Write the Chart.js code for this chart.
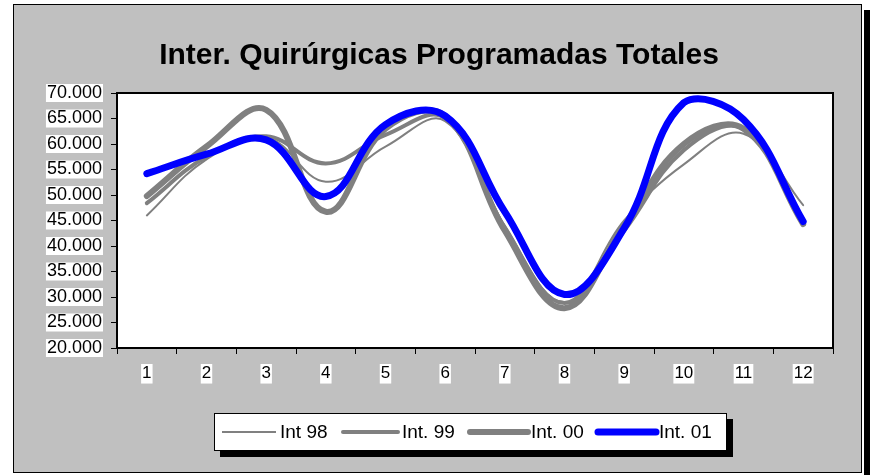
<!DOCTYPE html>
<html>
<head>
<meta charset="utf-8">
<script src="https://cdn.jsdelivr.net/npm/chart.js@4/dist/chart.umd.min.js"></script>
<style>
  body { margin: 0; background: #fff; }
  canvas { display: block; }
</style>
</head>
<body>
<canvas id="chart" width="870" height="475"></canvas>
<script>
// months 1..12
const months = ['1', '2', '3', '4', '5', '6', '7', '8', '9', '10', '11', '12'];

// interventions per month, each year
const int98 = [46000, 57000, 61300, 52600, 59500, 64500, 44000, 29000, 45000, 56000, 62000, 48000];
const int99 = [48400, 57500, 61500, 56200, 61800, 65000, 43500, 28800, 43000, 58800, 63000, 44500];
const int00 = [49800, 59500, 66700, 46700, 63000, 65500, 43000, 27800, 44000, 60000, 63000, 44300];
const int01 = [54200, 58000, 60800, 49700, 63800, 65500, 46700, 30500, 43500, 68100, 64800, 44800];

const seriesNames = ['Int 98', 'Int. 99', 'Int. 00', 'Int. 01'];
const chartTitle = 'Inter. Quirúrgicas Programadas Totales';

const yMin = 20000;
const yMax = 70000;
const yStep = 5000;

const FONT = "Arial, 'Liberation Sans', sans-serif";
const GREY = '#808080';
const BLUE = '#0000ff';

const fmt = (v) => (v / 1000) + '.000';

// frame, title, plot background and border
const framePlugin = {
    id: 'frame',
    beforeDraw(chart) {
        const ctx = chart.ctx;
        const a = chart.chartArea;
        ctx.save();
        ctx.fillStyle = '#000';
        ctx.fillRect(864, 10, 6, 465);
        ctx.fillStyle = '#c0c0c0';
        ctx.fillRect(13, 4, 849, 469);
        ctx.strokeStyle = '#000';
        ctx.lineWidth = 1;
        ctx.strokeRect(13.5, 4.5, 848, 468);
        ctx.fillStyle = '#fff';
        ctx.fillRect(a.left, a.top, a.right - a.left, a.bottom - a.top);
        // title
        ctx.fillStyle = '#000';
        ctx.font = 'bold 30px ' + FONT;
        ctx.textAlign = 'center';
        ctx.textBaseline = 'middle';
        ctx.fillText(chartTitle, 439, 56);
        ctx.restore();
    },
    afterDatasetsDraw(chart) {
        const ctx = chart.ctx;
        const a = chart.chartArea;
        ctx.save();
        ctx.strokeStyle = '#000';
        ctx.lineWidth = 2;
        ctx.strokeRect(a.left, a.top, a.right - a.left, a.bottom - a.top);
        ctx.restore();
    }
};

// legend box like the spreadsheet one
const legendPlugin = {
    id: 'boxLegend',
    afterDraw(chart) {
        const ctx = chart.ctx;
        const box = { x: 214, y: 413, w: 513, h: 38 };
        const items = [
            { x0: 222, x1: 276, tx: 280 },
            { x0: 343, x1: 398, tx: 402 },
            { x0: 470, x1: 528, tx: 531 },
            { x0: 598, x1: 656, tx: 659 }
        ];
        ctx.save();
        ctx.fillStyle = '#000';
        ctx.fillRect(box.x + 6, box.y + 6, box.w, box.h);
        ctx.fillStyle = '#fff';
        ctx.fillRect(box.x, box.y, box.w, box.h);
        ctx.strokeStyle = '#000';
        ctx.lineWidth = 1;
        ctx.strokeRect(box.x + 0.5, box.y + 0.5, box.w - 1, box.h - 1);
        const cy = box.y + box.h / 2;
        chart.data.datasets.forEach((ds, i) => {
            const it = items[i];
            ctx.strokeStyle = ds.borderColor;
            ctx.lineWidth = ds.borderWidth;
            ctx.lineCap = ds.borderWidth > 2 ? 'round' : 'butt';
            ctx.beginPath();
            ctx.moveTo(it.x0, cy);
            ctx.lineTo(it.x1, cy);
            ctx.stroke();
            ctx.fillStyle = '#000';
            ctx.font = '19px ' + FONT;
            ctx.textBaseline = 'middle';
            ctx.textAlign = 'left';
            ctx.fillText(ds.label, it.tx, cy + 1);
        });
        ctx.restore();
    }
};

const series = [int98, int99, int00, int01];
const widths = [2, 4, 6, 7];
const colors = [GREY, GREY, GREY, BLUE];

new Chart(document.getElementById('chart'), {
    type: 'line',
    data: {
        labels: months,
        datasets: series.map((values, i) => ({
            label: seriesNames[i],
            data: values,
            borderColor: colors[i],
            backgroundColor: colors[i],
            borderWidth: widths[i],
            borderCapStyle: 'round',
            borderJoinStyle: 'round',
            pointRadius: 0,
            tension: 0.4,
            fill: false,
            order: 3 - i
        }))
    },
    options: {
        responsive: false,
        animation: false,
        devicePixelRatio: 1,
        layout: {
            padding: { left: 0, right: 37, top: 93, bottom: 87 }
        },
        plugins: {
            legend: { display: false },
            tooltip: { enabled: false },
            title: { display: false }
        },
        scales: {
            x: {
                offset: true,
                grid: {
                    display: true,
                    drawOnChartArea: false,
                    drawTicks: true,
                    tickLength: 6,
                    tickColor: '#000',
                    tickWidth: 1,
                    offset: true
                },
                border: { display: true, color: '#000', width: 2 },
                ticks: {
                    color: '#000',
                    font: { family: FONT, size: 17, lineHeight: 1.15 },
                    padding: 10,
                    maxRotation: 0,
                    showLabelBackdrop: true,
                    backdropColor: '#fff',
                    backdropPadding: { x: 1, y: 0 }
                },
                afterFit(scale) { scale.height = 40; }
            },
            y: {
                min: yMin,
                max: yMax,
                grid: {
                    display: true,
                    drawOnChartArea: false,
                    drawTicks: true,
                    tickLength: 6,
                    tickColor: '#000',
                    tickWidth: 1
                },
                border: { display: true, color: '#000', width: 2 },
                ticks: {
                    stepSize: yStep,
                    color: '#000',
                    font: { family: FONT, size: 18, lineHeight: 1.0 },
                    padding: 9,
                    showLabelBackdrop: true,
                    backdropColor: '#fff',
                    backdropPadding: { x: 1, y: 0 },
                    callback: (v) => fmt(v)
                },
                afterFit(scale) { scale.width = 117; }
            }
        }
    },
    plugins: [framePlugin, legendPlugin]
});
</script>
</body>
</html>
